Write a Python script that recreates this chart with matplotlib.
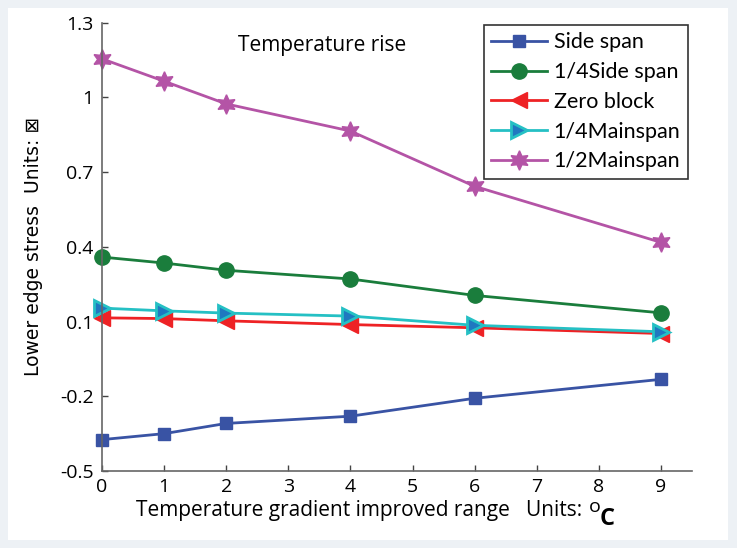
import numpy as np
import matplotlib
matplotlib.use("Agg")
import matplotlib.pyplot as plt
from matplotlib.patches import Rectangle

# =============================================================================
# Data

x_range = [0, 1, 2, 4, 6, 9]

side_span = [-0.374, -0.350, -0.309, -0.280, -0.208, -0.132]
quarter_side_span = [0.359, 0.335, 0.306, 0.271, 0.205, 0.135]
zero_block = [0.115, 0.112, 0.103, 0.088, 0.075, 0.052]
quarter_mainspan = [0.154, 0.143, 0.134, 0.122, 0.085, 0.059]
half_mainspan = [1.155, 1.065, 0.974, 0.865, 0.643, 0.418]

series_labels = ["Side span", "1/4Side span", "Zero block", "1/4Mainspan", "1/2Mainspan"]
x_ticks = list(range(10))
y_ticks = [-0.5, -0.2, 0.1, 0.4, 0.7, 1.0, 1.3]
y_ticklabels = ["-0.5", "-0.2", "0.1", "0.4", "0.7", "1", "1.3"]

# =============================================================================
# Plot

plt.rcParams["font.family"] = ["Open Sans", "DejaVu Sans"]

W, H = 737, 548
fg = plt.figure(figsize=(W / 100, H / 100), dpi=100)
fg.patch.set_facecolor("#edf1f5")
fg.patches.append(
    Rectangle((8 / W, 8 / H), 720 / W, 532 / H, transform=fg.transFigure,
              facecolor="white", edgecolor="none", zorder=-10)
)

# axes box in pixels: left 102, right 692, top 22.7, bottom 471
ax = fg.add_axes([102 / W, 1 - 471 / H, 590 / W, 448.3 / H])
ax.set_facecolor("none")

hexagram = (6, 1, 0)
styles = [
    dict(color="#3953a4", marker="s", ms=9, mfc="#3953a4", mec="#3953a4"),
    dict(color="#1a7d3c", marker="o", ms=11, mfc="#1a7d3c", mec="#1a7d3c"),
    dict(color="#ee2225", marker="<", ms=11, mfc="#ee2225", mec="#ee2225"),
    dict(color="#25c0c4", marker=">", ms=11, mfc="#1f78c0", mec="#25c0c4", mew=2),
    dict(color="#b454a6", marker=hexagram, ms=14, mfc="#b454a6", mec="#b454a6"),
]
all_series = [side_span, quarter_side_span, zero_block, quarter_mainspan, half_mainspan]

for ys, lab, st in zip(all_series, series_labels, styles):
    ax.plot(x_range, ys, lw=2, label=lab, clip_on=False, **st)

ax.set_xlim(0, 9.5)
ax.set_ylim(-0.5, 1.3)
ax.set_xticks(x_ticks)
ax.set_yticks(y_ticks)
ax.set_yticklabels(y_ticklabels)

for side in ["top", "right"]:
    ax.spines[side].set_visible(False)
for side in ["left", "bottom"]:
    ax.spines[side].set_color("#666666")
    ax.spines[side].set_linewidth(1.2)
ax.tick_params(direction="in", length=4, width=1, colors="#444444",
               labelcolor="black", labelsize=14)
ax.tick_params(axis="x", pad=5)
ax.tick_params(axis="y", pad=6)

ax.text(3.55, 1.21, "Temperature rise", fontsize=15, ha="center", va="center")

ax.set_ylabel("Lower edge stress  Units: \u22a0", family="DejaVu Sans",
              fontsize=13.5, labelpad=12)

# x label: text, then a raised "o" and a big bold lowered "C"
fg.text(136 / W, 1 - 516 / H, "Temperature gradient improved range   Units:",
        fontsize=15, ha="left", va="baseline")
fg.text(589 / W, 1 - 512 / H, "o", fontsize=14, ha="left", va="baseline")
fg.text(600 / W, 1 - 525 / H, "C", fontsize=17, fontweight="bold",
        ha="left", va="baseline")

leg = ax.legend(loc="upper right", bbox_to_anchor=(0.993, 0.995),
                prop=dict(family=["Lato", "Open Sans"], size=15.5),
                frameon=True, fancybox=False, edgecolor="black",
                handlelength=2.6, handletextpad=0.3, labelspacing=0.45,
                borderpad=0.35, borderaxespad=0)
leg.get_frame().set_linewidth(1.2)

fg.savefig("out.png", dpi=100, facecolor=fg.get_facecolor())
